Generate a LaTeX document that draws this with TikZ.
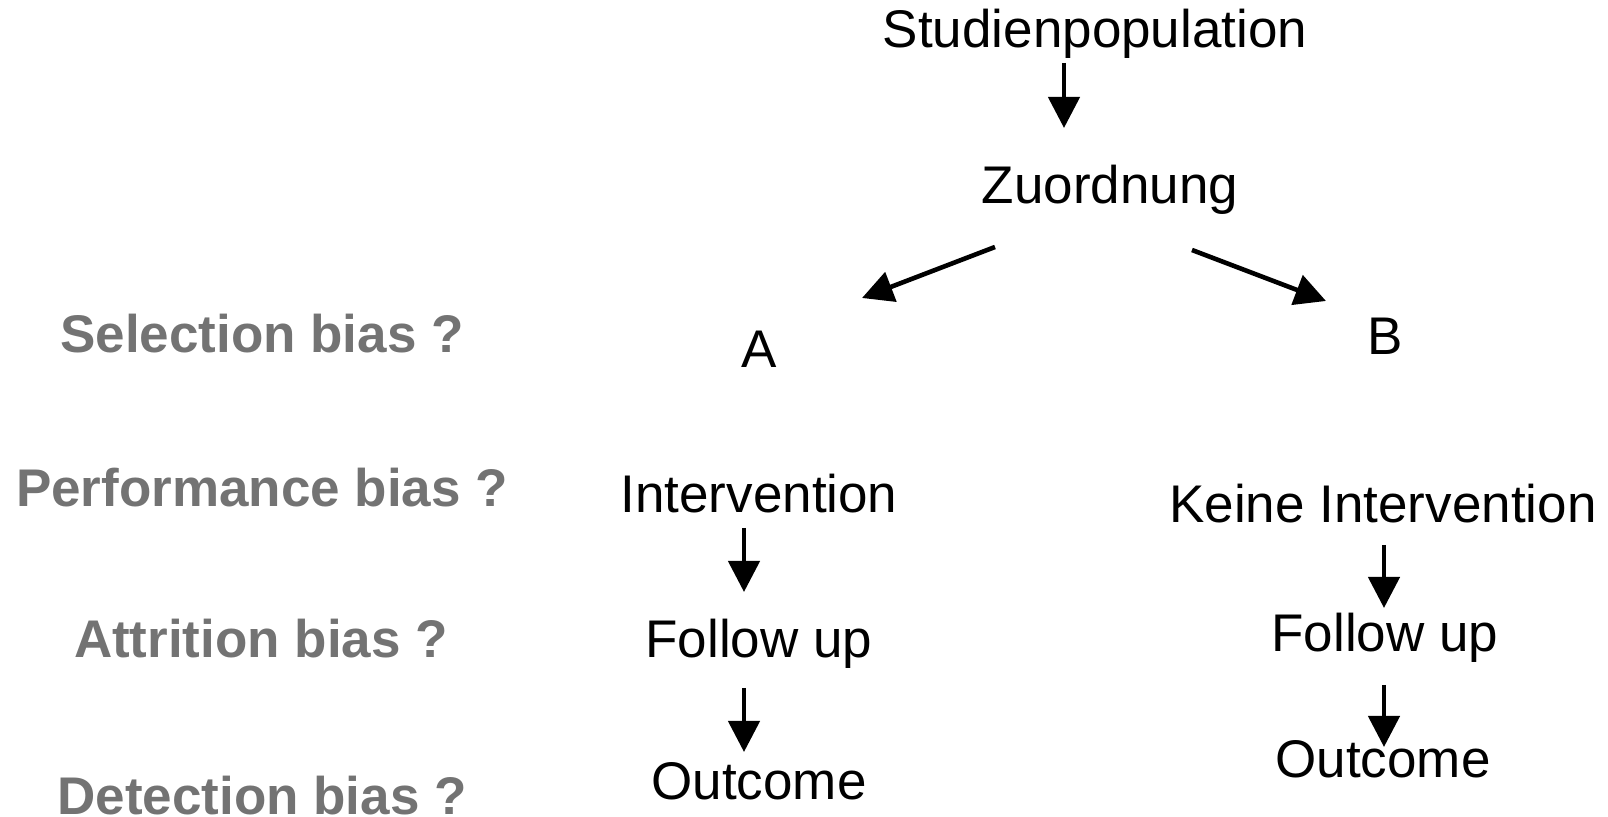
\documentclass[tikz,border=0pt]{standalone}
\usepackage{fontspec}
\setmainfont{Liberation Sans}
\usepackage{xcolor}
\usepackage{tikz}
\usetikzlibrary{positioning, arrows.meta, calc}
\definecolor{biasgray}{RGB}{115,115,115}
\tikzstyle{st}=[%
      rectangle, draw=none, fill=none, inner sep=0pt, anchor=base,
      font=\fontsize{26.5}{32}\selectfont
]
\tikzstyle{bs}=[%
      rectangle, draw=none, fill=none, inner sep=0pt, anchor=base, color=biasgray,
      font=\fontsize{26.5}{32}\selectfont\bfseries
]
\begin{document}
\begin{tikzpicture}[x=0.5pt, y=-0.5pt,
    ->,
    >={Triangle[length=15.5pt,width=15.5pt]},
    line width=2.3pt
  ]
    \useasboundingbox (0,0) rectangle (1608,817);

    \node[st] (stud)  at (1095,48)  {Studienpopulation};
    \node[st] (zu)    at (1110,204) {Zuordnung};
    \node[st] (a)     at (759,368)  {A};
    \node[st] (b)     at (1385,355) {B};
    \node[st] (int)   at (759,513)  {Intervention};
    \node[st] (kint)  at (1383,523) {Keine Intervention};
    \node[st] (fua)   at (759,658)  {Follow up};
    \node[st] (fub)   at (1385,652) {Follow up};
    \node[st] (outa)  at (759,800)  {Outcome};
    \node[st] (outb)  at (1383,778) {Outcome};

    \node[bs] (sel)   at (262,353)  {Selection bias ?};
    \node[bs] (perf)  at (262,507)  {Performance bias ?};
    \node[bs] (attr)  at (261,658)  {Attrition bias ?};
    \node[bs] (det)   at (262,815)  {Detection bias ?};

    \draw ($(stud.base)+(-31,15)$) -- ($(zu.base)+(-46,-76)$);
    \draw ($(zu.base)+(-115,43)$)  -- ($(a.base)+(103,-70)$);
    \draw ($(zu.base)+(82,46)$)    -- ($(b.base)+(-59,-54)$);
    \draw ($(int.base)+(-15,15)$)  -- ($(fua.base)+(-15,-66)$);
    \draw ($(fua.base)+(-15,30)$)  -- ($(outa.base)+(-15,-48)$);
    \draw ($(kint.base)+(1,22)$)   -- ($(fub.base)+(-1,-44)$);
    \draw ($(fub.base)+(-1,33)$)   -- ($(outb.base)+(1,-31)$);

  \end{tikzpicture}
\end{document}
